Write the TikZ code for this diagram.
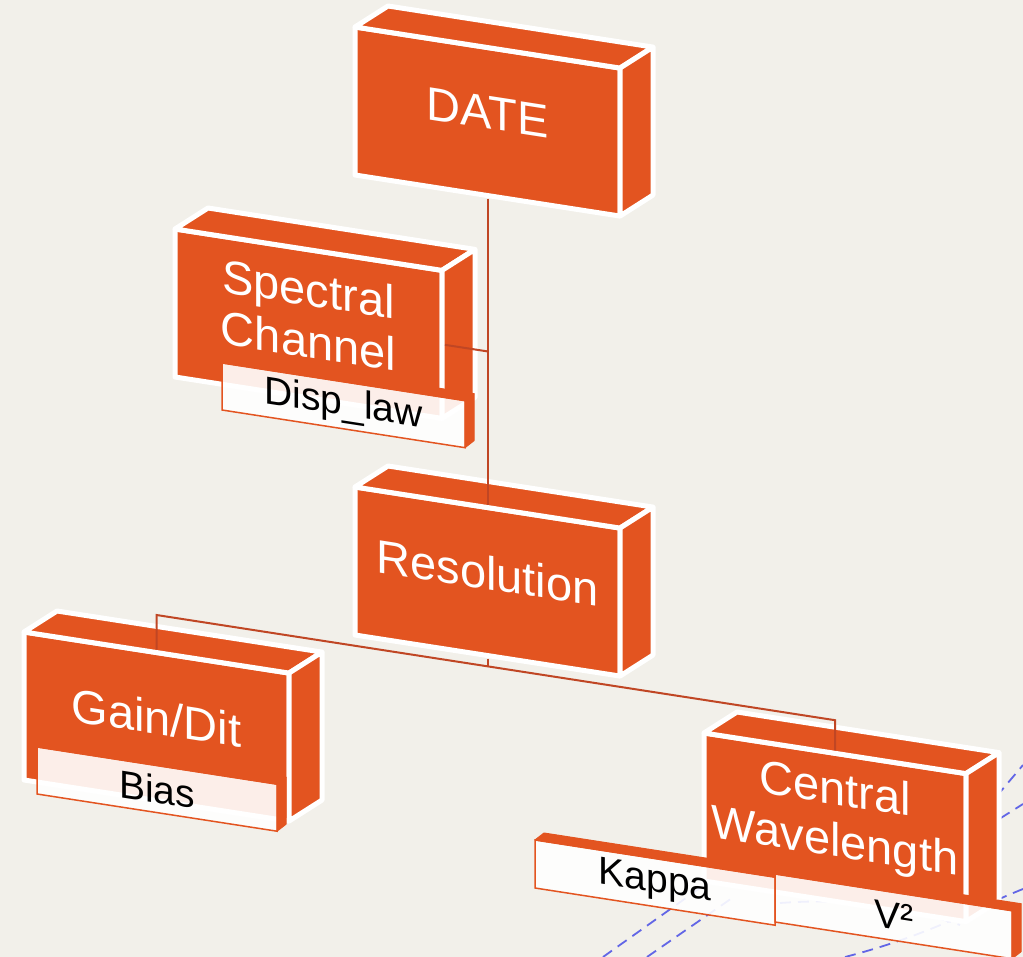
\documentclass[tikz,border=0pt]{standalone}
\usepackage{fontspec}
\setmainfont{Liberation Sans}
\usetikzlibrary{calc}
\definecolor{bg}{RGB}{242,240,234}
\definecolor{org}{RGB}{227,84,32}
\definecolor{connc}{RGB}{192,70,36}
\definecolor{dashb}{RGB}{98,102,230}

\newcommand\drawbox[6]{%
  \pgfmathsetmacro\pbx{#2+#4/2}%
  \pgfmathsetmacro\pby{#3+#5/2+0.155*#4/2}%
  \node[boxface, minimum width=#4pt, minimum height=#5pt] (#1) at (\pbx,\pby) {};
  \draw[boxside] (#1.north west) -- (#1.north east) -- ++(33,-21) -- ([shift={(33,-21)}]#1.north west) -- cycle;
  \draw[boxside] (#1.north east) -- (#1.south east) -- ++(33,-21) -- ([shift={(33,-21)}]#1.north east) -- cycle;
  \node[boxtext] (#1-t) at ([yshift=9pt]#1.center) {#6};
}
\newcommand\drawlab[7]{%
  \pgfmathsetmacro\pbx{#2+#4/2}%
  \pgfmathsetmacro\pby{#3+#5/2+0.155*#4/2}%
  \node[labface, minimum width=#4pt, minimum height=#5pt] (#1) at (\pbx,\pby) {#6};
  \draw[labside] (#1.north west) -- (#1.north east) -- ++(9,-7) -- ([shift={(9,-7)}]#1.north west) -- cycle;
  \ifx#7y
  \draw[labside] (#1.north east) -- (#1.south east) -- ++(9,-7) -- ([shift={(9,-7)}]#1.north east) -- cycle;
  \fi
}

\begin{document}
\begin{tikzpicture}[x=1pt,y=-1pt,
  boxface/.style={draw=white, line width=5pt, fill=org, line join=round,
    yslant=-0.155, outer sep=0pt, inner sep=0pt},
  boxtext/.style={text=white, yslant=-0.155, inner sep=0pt, align=center,
    font=\fontsize{47}{52}\selectfont},
  boxside/.style={draw=white, line width=5pt, fill=org, line join=round},
  labface/.style={draw=org, line width=1.5pt, fill=white, fill opacity=0.9, text opacity=1,
    text=black, yslant=-0.155, outer sep=0pt, inner sep=0pt,
    font=\fontsize{39}{39}\selectfont},
  labside/.style={fill=org, draw=org, line width=1pt, line join=round},
  conn/.style={draw=connc, line width=2pt},
  dashl/.style={draw=dashb, line width=1.8pt, dash pattern=on 11pt off 7pt}
]
\useasboundingbox (0,0) rectangle (1023,957);
\clip (0,0) rectangle (1023,957);
\fill[bg] (0,0) rectangle (1023,957);

% background dashed traces
\coordinate (d1a) at (603,957); \coordinate (d1b) at (700,888);
\coordinate (d2a) at (647,957); \coordinate (d2b) at (735,896);
\coordinate (d3a) at (845,957); \coordinate (d3b) at (1023,889);
\coordinate (d4a) at (985,810); \coordinate (d4b) at (1023,765);
\coordinate (d5a) at (985,828); \coordinate (d5b) at (1023,804);
\coordinate (d6a) at (780,903); \coordinate (d6b) at (960,925);
\draw[dashl] (d1a) -- (d1b);
\draw[dashl] (d2a) -- (d2b);
\draw[dashl] (d3a) .. controls (930,935) and (975,908) .. (d3b);
\draw[dashl] (d4a) -- (d4b);
\draw[dashl] (d5a) -- (d5b);
\draw[dashl] (d6a) .. controls (850,898) and (900,905) .. (d6b);

% boxes
\drawbox{date}{355}{27}{265}{148}{DATE}
\drawbox{spec}{175}{229}{267}{148}{Spectral\\Channel}
\drawlab{disp}{222}{363}{243}{47}{Disp\_law}{y}
\drawbox{res}{355}{487}{265}{148}{Resolution}
\drawbox{gain}{24}{632}{265}{148}{Gain/Dit}
\drawlab{bias}{37}{747}{240}{47}{Bias}{y}
\drawbox{cw}{704}{733}{262}{148}{Central\\Wavelength}
\drawlab{kappa}{535}{840}{240}{48}{Kappa}{n}
\drawlab{vsq}{775}{874}{237}{48}{V²}{y}

% connectors
\coordinate (j1) at ([shift={(46,7.1)}]spec.east);
\coordinate (busL) at (156.5,615);
\coordinate (busM) at (487.5,666.3);
\coordinate (busR) at (835,720.2);
\draw[conn, shorten <=3pt] (spec.east) -- (j1);
\draw[conn, shorten <=3pt, shorten >=3pt] (date.south) -- (res.north);
\draw[conn, shorten <=3pt] (res.south) -- (busM);
\draw[conn, shorten <=3pt, shorten >=3pt] (gain.north) -- (busL) -- (busR) -- (cw.north);
\end{tikzpicture}
\end{document}
